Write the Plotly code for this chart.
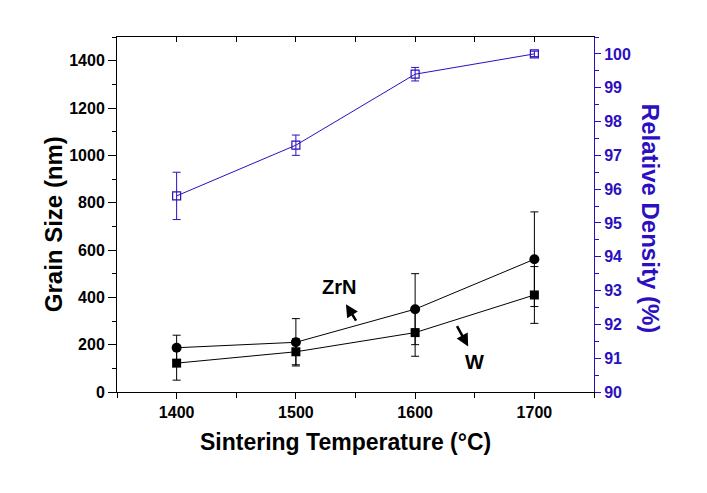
import plotly.graph_objects as go

temps = [1400, 1500, 1600, 1700]
w_size = [122, 170, 251, 410]
w_err = [72, 55, 100, 120]
zrn_size = [187, 210, 350, 561]
zrn_err = [53, 100, 150, 200]
density = [95.8, 97.3, 99.4, 100.0]
density_err = [0.7, 0.3, 0.2, 0.08]

BLUE = "#2B0FC0"
FONT = "Liberation Sans, Arial, sans-serif"

fig = go.Figure()

fig.add_trace(go.Scatter(
    x=temps, y=w_size, mode="lines+markers", name="W",
    line=dict(color="black", width=1),
    marker=dict(symbol="square", size=9, color="black"),
    error_y=dict(type="data", array=w_err, color="black", thickness=1, width=4),
    xaxis="x", yaxis="y"))

fig.add_trace(go.Scatter(
    x=temps, y=zrn_size, mode="lines+markers", name="ZrN",
    line=dict(color="black", width=1),
    marker=dict(symbol="circle", size=10, color="black"),
    error_y=dict(type="data", array=zrn_err, color="black", thickness=1, width=4),
    xaxis="x", yaxis="y"))

fig.add_trace(go.Scatter(
    x=temps, y=density, mode="lines+markers", name="Relative Density",
    line=dict(color=BLUE, width=1),
    marker=dict(symbol="square-open", size=8, color=BLUE, line=dict(width=1.2, color=BLUE)),
    error_y=dict(type="data", array=density_err, color=BLUE, thickness=1, width=4),
    xaxis="x", yaxis="y2"))

# dummy trace for the top mirrored axis
fig.add_trace(go.Scatter(x=[], y=[], xaxis="x2", yaxis="y", showlegend=False, hoverinfo="skip"))

fig.update_layout(
    width=707, height=493,
    margin=dict(l=109, r=121, t=29, b=109),
    paper_bgcolor="white", plot_bgcolor="white",
    showlegend=False,
    font=dict(family=FONT, size=16, color="black", weight="bold"),
    xaxis=dict(
        range=[1350, 1750], tick0=1400, dtick=100,
        ticks="outside", ticklen=6, tickwidth=1, tickcolor="black",
        minor=dict(dtick=50, tick0=1350, ticks="outside", ticklen=5, tickcolor="black"),
        showline=True, linecolor="black", linewidth=1,
        showgrid=False, zeroline=False,
        tickfont=dict(size=16, family=FONT, weight="bold"),
    ),
    xaxis2=dict(
        overlaying="x", side="top", range=[1350, 1750], tick0=1400, dtick=100,
        ticks="inside", ticklen=5, tickcolor="black", showticklabels=False,
        minor=dict(dtick=50, tick0=1350, ticks="inside", ticklen=5, tickcolor="black"),
        showline=True, linecolor="black", linewidth=1,
        showgrid=False, zeroline=False,
    ),
    yaxis=dict(
        range=[0, 1500], dtick=200, tick0=0,
        ticks="outside", ticklen=8, tickwidth=1, tickcolor="black",
        minor=dict(dtick=100, ticks="outside", ticklen=4, tickcolor="black"),
        showline=True, linecolor="black", linewidth=1,
        showgrid=False, zeroline=False,
        tickfont=dict(size=16, family=FONT, weight="bold"),
    ),
    yaxis2=dict(
        overlaying="y", side="right", range=[90, 100.5], dtick=1, tick0=90,
        ticks="outside", ticklen=6, tickwidth=1, tickcolor=BLUE,
        minor=dict(dtick=0.5, ticks="outside", ticklen=4, tickcolor=BLUE),
        showline=True, linecolor=BLUE, linewidth=1,
        showgrid=False, zeroline=False,
        tickfont=dict(size=16, family=FONT, color=BLUE, weight="bold"),
    ),
    annotations=[
        dict(text="Sintering Temperature (°C)", xref="paper", yref="paper", x=0.478, y=-0.14,
             xanchor="center", yanchor="middle", showarrow=False,
             font=dict(size=23, family=FONT, weight="bold")),
        dict(text="Grain Size (nm)", xref="paper", yref="paper", x=-0.134, y=0.473,
             xanchor="center", yanchor="middle", textangle=-90, showarrow=False,
             font=dict(size=24, family=FONT, weight="bold")),
        dict(text="Relative Density (%)", xref="paper", yref="paper", x=1.12, y=0.49,
             xanchor="center", yanchor="middle", textangle=90, showarrow=False,
             font=dict(size=24, family=FONT, color=BLUE, weight="bold")),
        dict(text="ZrN", xref="x", yref="y", x=1536, y=444, showarrow=False,
             font=dict(size=20, family=FONT, weight="bold")),
        dict(text="", xref="x", yref="y", x=1542, y=371, ax=11, ay=18,
             showarrow=True, arrowhead=2, arrowsize=1, arrowwidth=2.5, arrowcolor="black"),
        dict(text="W", xref="x", yref="y", x=1649.5, y=128, showarrow=False,
             font=dict(size=20, family=FONT, weight="bold")),
        dict(text="", xref="x", yref="y", x=1644.5, y=192, ax=-12, ay=-22,
             showarrow=True, arrowhead=2, arrowsize=1, arrowwidth=2.5, arrowcolor="black"),
    ],
)

fig.write_html("out.html")
